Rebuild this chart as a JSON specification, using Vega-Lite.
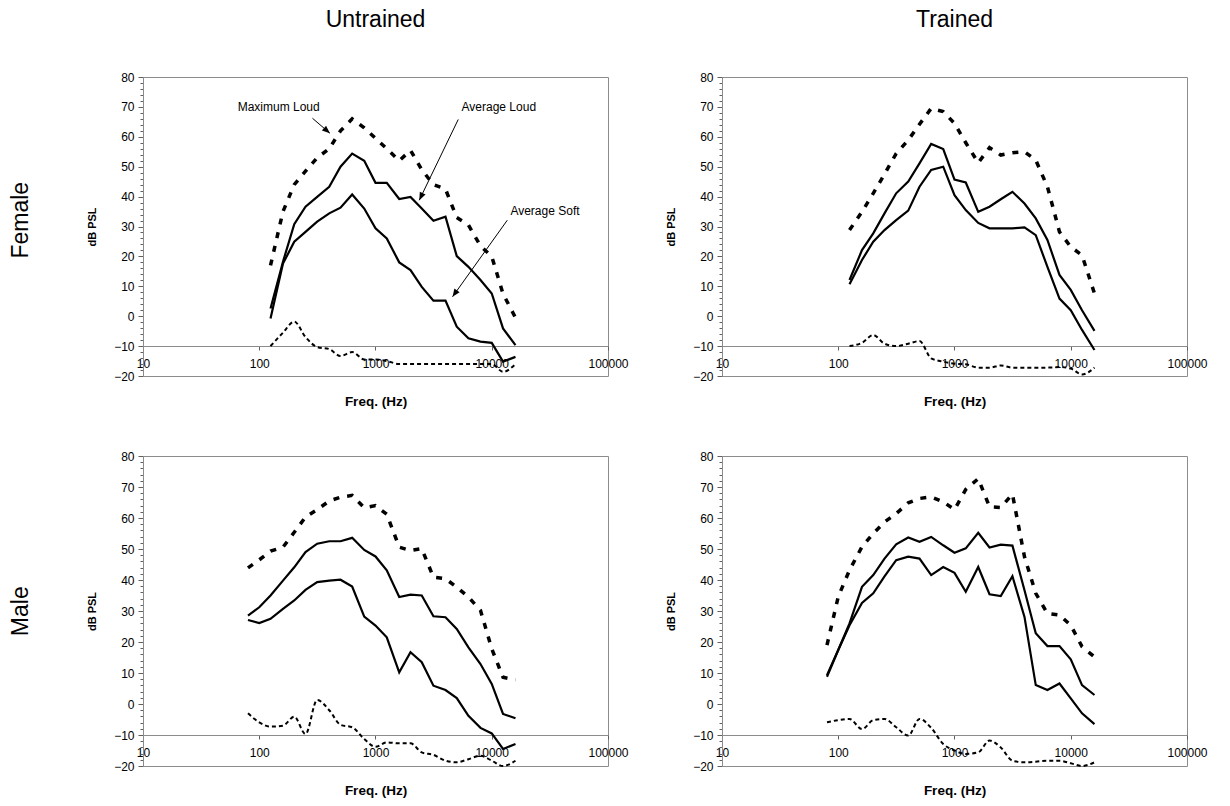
{
  "$schema": "https://vega.github.io/schema/vega-lite/v6.json",
  "background": "white",
  "padding": {"left": 10, "top": 8, "right": 5, "bottom": 5},
  "config": {
    "font": "Liberation Sans",
    "view": {"stroke": "#8c8c8c", "strokeWidth": 1},
    "axis": {"labelColor": "#000", "titleColor": "#000", "labelFontSize": 12, "grid": false, "domainColor": "#8c8c8c", "tickColor": "#606060"},
    "title": {"fontSize": 23, "fontWeight": "normal", "color": "#000"}
  },
  "datasets": {
    "spl": [
      {"p":"FU","f":125,"max":17,"loud":2.6,"soft":-0.8,"noise":-10},
      {"p":"FU","f":160,"max":35,"loud":18.2,"soft":17.6,"noise":-5.5},
      {"p":"FU","f":200,"max":44,"loud":30.8,"soft":24.9,"noise":-1.8},
      {"p":"FU","f":250,"max":48.5,"loud":36.6,"soft":28.2,"noise":-7},
      {"p":"FU","f":315,"max":53,"loud":39.9,"soft":31.6,"noise":-10.3},
      {"p":"FU","f":400,"max":56,"loud":43.3,"soft":34.4,"noise":-11},
      {"p":"FU","f":500,"max":62,"loud":50,"soft":36.3,"noise":-13.3},
      {"p":"FU","f":630,"max":66,"loud":54.4,"soft":40.7,"noise":-12},
      {"p":"FU","f":800,"max":63,"loud":52,"soft":36,"noise":-14.5},
      {"p":"FU","f":1000,"max":59.5,"loud":44.6,"soft":29.4,"noise":-14.5},
      {"p":"FU","f":1250,"max":56,"loud":44.6,"soft":26,"noise":-15},
      {"p":"FU","f":1600,"max":52,"loud":39.2,"soft":18,"noise":-16},
      {"p":"FU","f":2000,"max":55.5,"loud":39.9,"soft":15.4,"noise":-16},
      {"p":"FU","f":2500,"max":49,"loud":36,"soft":9.8,"noise":-16},
      {"p":"FU","f":3150,"max":44,"loud":31.9,"soft":5.2,"noise":-16},
      {"p":"FU","f":4000,"max":42.5,"loud":33.3,"soft":5.2,"noise":-16},
      {"p":"FU","f":5000,"max":33,"loud":20.1,"soft":-3.5,"noise":-16},
      {"p":"FU","f":6300,"max":30.5,"loud":16.5,"soft":-7.4,"noise":-16},
      {"p":"FU","f":8000,"max":23.5,"loud":12.1,"soft":-8.5,"noise":-16},
      {"p":"FU","f":10000,"max":20,"loud":7.6,"soft":-8.9,"noise":-16},
      {"p":"FU","f":12500,"max":7.5,"loud":-4.1,"soft":-15.2,"noise":-18.6},
      {"p":"FU","f":16000,"max":-0.5,"loud":-9.7,"soft":-13.6,"noise":-16},

      {"p":"FT","f":125,"max":28.8,"loud":12.1,"soft":10.7,"noise":-10},
      {"p":"FT","f":160,"max":34.9,"loud":22.1,"soft":18.8,"noise":-8.9},
      {"p":"FT","f":200,"max":41.1,"loud":27.7,"soft":24.9,"noise":-6.3},
      {"p":"FT","f":250,"max":47.5,"loud":34.4,"soft":28.8,"noise":-9.2},
      {"p":"FT","f":315,"max":54.4,"loud":41.1,"soft":32.1,"noise":-10},
      {"p":"FT","f":400,"max":58.9,"loud":45,"soft":35.3,"noise":-9.2},
      {"p":"FT","f":500,"max":64.2,"loud":51.1,"soft":43.3,"noise":-8.3},
      {"p":"FT","f":630,"max":69.5,"loud":57.6,"soft":48.9,"noise":-14.1},
      {"p":"FT","f":800,"max":68.4,"loud":55.9,"soft":50,"noise":-15.2},
      {"p":"FT","f":1000,"max":64.5,"loud":45.7,"soft":40.5,"noise":-15.9},
      {"p":"FT","f":1250,"max":58,"loud":44.7,"soft":35.5,"noise":-16.1},
      {"p":"FT","f":1600,"max":51.3,"loud":34.9,"soft":31.2,"noise":-17.2},
      {"p":"FT","f":2000,"max":56.4,"loud":36.6,"soft":29.4,"noise":-17.2},
      {"p":"FT","f":2500,"max":53.9,"loud":39.1,"soft":29.4,"noise":-16.5},
      {"p":"FT","f":3150,"max":54.7,"loud":41.6,"soft":29.4,"noise":-17.2},
      {"p":"FT","f":4000,"max":55,"loud":37.7,"soft":29.7,"noise":-17.2},
      {"p":"FT","f":5000,"max":52.2,"loud":32.7,"soft":27.1,"noise":-17.2},
      {"p":"FT","f":6300,"max":43.3,"loud":25.5,"soft":16.5,"noise":-17.2},
      {"p":"FT","f":8000,"max":28.2,"loud":13.8,"soft":5.9,"noise":-17},
      {"p":"FT","f":10000,"max":23.2,"loud":8.8,"soft":2,"noise":-17.5},
      {"p":"FT","f":12500,"max":20.4,"loud":2,"soft":-4.6,"noise":-19.5},
      {"p":"FT","f":16000,"max":7.6,"loud":-4.9,"soft":-11.3,"noise":-17.2},

      {"p":"MU","f":80,"max":43.9,"loud":28.5,"soft":27.1,"noise":-3},
      {"p":"MU","f":100,"max":46.5,"loud":31.2,"soft":26.1,"noise":-5.9},
      {"p":"MU","f":125,"max":49.3,"loud":35,"soft":27.5,"noise":-7.3},
      {"p":"MU","f":160,"max":50.6,"loud":39.8,"soft":30.7,"noise":-7},
      {"p":"MU","f":200,"max":55.4,"loud":44.1,"soft":33.4,"noise":-4.1},
      {"p":"MU","f":250,"max":60.3,"loud":49,"soft":36.8,"noise":-9.7},
      {"p":"MU","f":315,"max":62.7,"loud":51.7,"soft":39.3,"noise":1.3},
      {"p":"MU","f":400,"max":65.5,"loud":52.5,"soft":39.8,"noise":-2},
      {"p":"MU","f":500,"max":66.7,"loud":52.5,"soft":40.1,"noise":-6.7},
      {"p":"MU","f":630,"max":67.3,"loud":53.6,"soft":37.9,"noise":-7.5},
      {"p":"MU","f":800,"max":63.3,"loud":49.7,"soft":28.2,"noise":-11.3},
      {"p":"MU","f":1000,"max":64,"loud":47.6,"soft":25.3,"noise":-13.8},
      {"p":"MU","f":1250,"max":61.2,"loud":43.1,"soft":21.5,"noise":-12.4},
      {"p":"MU","f":1600,"max":50.6,"loud":34.5,"soft":10.2,"noise":-12.7},
      {"p":"MU","f":2000,"max":49.5,"loud":35.3,"soft":16.7,"noise":-12.7},
      {"p":"MU","f":2500,"max":50.1,"loud":35,"soft":13.5,"noise":-15.6},
      {"p":"MU","f":3150,"max":40.9,"loud":28.3,"soft":5.9,"noise":-16.4},
      {"p":"MU","f":4000,"max":40.4,"loud":28,"soft":4.5,"noise":-18.3},
      {"p":"MU","f":5000,"max":37.7,"loud":24.2,"soft":1.9,"noise":-18.8},
      {"p":"MU","f":6300,"max":34.5,"loud":18.3,"soft":-3.8,"noise":-17.8},
      {"p":"MU","f":8000,"max":30.2,"loud":12.9,"soft":-7.7,"noise":-16.7},
      {"p":"MU","f":10000,"max":17.8,"loud":6.5,"soft":-9.5,"noise":-18.3},
      {"p":"MU","f":12500,"max":8.6,"loud":-3.2,"soft":-14.5,"noise":-20},
      {"p":"MU","f":16000,"max":7.8,"loud":-4.6,"soft":-12.9,"noise":-18.3},

      {"p":"MT","f":80,"max":19,"loud":9.3,"soft":8.8,"noise":-5.9},
      {"p":"MT","f":100,"max":34.6,"loud":17.4,"soft":17.4,"noise":-5.2},
      {"p":"MT","f":125,"max":43.2,"loud":26,"soft":25.4,"noise":-4.8},
      {"p":"MT","f":160,"max":50.7,"loud":37.8,"soft":32.6,"noise":-8.1},
      {"p":"MT","f":200,"max":55,"loud":41.6,"soft":35.7,"noise":-5.2},
      {"p":"MT","f":250,"max":58.7,"loud":46.9,"soft":41.2,"noise":-4.8},
      {"p":"MT","f":315,"max":61.4,"loud":51.5,"soft":46.4,"noise":-7.5},
      {"p":"MT","f":400,"max":64.9,"loud":53.7,"soft":47.5,"noise":-10.2},
      {"p":"MT","f":500,"max":66.3,"loud":52.3,"soft":46.9,"noise":-4.8},
      {"p":"MT","f":630,"max":66.8,"loud":53.9,"soft":41.6,"noise":-7.7},
      {"p":"MT","f":800,"max":65.2,"loud":51.2,"soft":44.2,"noise":-12.9},
      {"p":"MT","f":1000,"max":62.7,"loud":48.8,"soft":42.3,"noise":-15},
      {"p":"MT","f":1250,"max":69.2,"loud":50.2,"soft":36.2,"noise":-16.1},
      {"p":"MT","f":1600,"max":72.7,"loud":55.2,"soft":44.2,"noise":-15.6},
      {"p":"MT","f":2000,"max":63.6,"loud":50.5,"soft":35.4,"noise":-11.8},
      {"p":"MT","f":2500,"max":63.4,"loud":51.4,"soft":34.8,"noise":-14},
      {"p":"MT","f":3150,"max":67.7,"loud":51.1,"soft":41.2,"noise":-18.3},
      {"p":"MT","f":4000,"max":47.5,"loud":36.7,"soft":28.1,"noise":-18.8},
      {"p":"MT","f":5000,"max":35.7,"loud":22.8,"soft":6.1,"noise":-18.6},
      {"p":"MT","f":6300,"max":29.2,"loud":18.7,"soft":4.5,"noise":-18.3},
      {"p":"MT","f":8000,"max":28.7,"loud":18.7,"soft":6.6,"noise":-18.3},
      {"p":"MT","f":10000,"max":25.4,"loud":14.4,"soft":1.8,"noise":-19.1},
      {"p":"MT","f":12500,"max":18.5,"loud":6.1,"soft":-3,"noise":-20},
      {"p":"MT","f":16000,"max":15.2,"loud":2.9,"soft":-6.5,"noise":-18.8}
    ],
    "notes": [
      {"label": "Maximum Loud", "f": 147, "db": 70},
      {"label": "Average Loud", "f": 11500, "db": 70},
      {"label": "Average Soft", "f": 28700, "db": 35.2}
    ],
    "arrows": [
      {"a": "max", "f": 405, "db": 61.2, "f0": 287, "db0": 66.2},
      {"a": "loud", "f": 2380, "db": 38.8, "f0": 5150, "db0": 65.8},
      {"a": "soft", "f": 4600, "db": 6.5, "f0": 13600, "db0": 32.1}
    ]
  },
  "spacing": 41,
  "vconcat": [
    {
      "title": {"text": "Female", "orient": "left", "anchor": "middle", "offset": 35, "baseline": "alphabetic", "dx": -12},
      "bounds": "flush",
      "spacing": 114,
      "hconcat": [
        {
          "width": 465, "height": 299,
          "title": {"text": "Untrained", "offset": 21, "baseline": "alphabetic", "frame": "group"},
          "encoding": {
            "x": {"field": "f", "type": "quantitative", "scale": {"type": "log", "domain": [10, 100000]},
              "axis": {"title": "Freq. (Hz)", "offset": -30, "values": [10, 100, 1000, 10000, 100000], "format": "d", "labelFlush": false, "labelOverlap": false, "labelBound": false, "tickSize": 4, "labelPadding": 8, "titleFontSize": 13.5, "titleFontWeight": "bold", "titlePadding": 25}},
            "y": {"field": "db", "type": "quantitative", "scale": {"domain": [-20, 80], "nice": false},
              "axis": {"title": "dB PSL", "values": [-20,-18,-16,-14,-12,-10,-8,-6,-4,-2,0,2,4,6,8,10,12,14,16,18,20,22,24,26,28,30,32,34,36,38,40,42,44,46,48,50,52,54,56,58,60,62,64,66,68,70,72,74,76,78,80], "labelExpr": "datum.value % 10 === 0 ? datum.label : ''", "tickSize": {"condition": {"test": "datum.value % 10 === 0", "value": 5}, "value": 3}, "labelOverlap": false, "labelFlush": false, "labelPadding": 4, "titleFontSize": 11, "titleFontWeight": "bold", "titlePadding": 16}}
          },
          "layer": [
            {"data": {"name": "spl"}, "transform": [{"filter": "datum.p === 'FU'"}, {"fold": ["loud", "soft"], "as": ["s", "db"]}],
              "mark": {"type": "line", "color": "black", "strokeWidth": 2.2}, "encoding": {"detail": {"field": "s"}}},
            {"data": {"name": "spl"}, "transform": [{"filter": "datum.p === 'FU'"}, {"fold": ["max"], "as": ["s", "db"]}],
              "mark": {"type": "line", "color": "black", "strokeWidth": 3.5, "strokeDash": [6, 8]}},
            {"data": {"name": "spl"}, "transform": [{"filter": "datum.p === 'FU'"}, {"fold": ["noise"], "as": ["s", "db"]}],
              "mark": {"type": "line", "color": "black", "strokeWidth": 2, "strokeDash": [4, 3], "interpolate": "monotone"}},
            {"data": {"name": "notes"}, "mark": {"type": "text", "fontSize": 12, "color": "black", "align": "center", "baseline": "middle"},
              "encoding": {"text": {"field": "label"}}},
            {"data": {"name": "arrows"}, "mark": {"type": "rule", "color": "black", "strokeWidth": 1},
              "encoding": {"x2": {"field": "f0"}, "y2": {"field": "db0"}}},
            {"data": {"name": "arrows"}, "transform": [{"filter": "datum.a === 'max'"}],
              "mark": {"type": "point", "shape": "M0,0L-0.9,2.2L0.9,2.2Z", "filled": true, "color": "black", "size": 50, "angle": 131, "opacity": 1}},
            {"data": {"name": "arrows"}, "transform": [{"filter": "datum.a === 'loud'"}],
              "mark": {"type": "point", "shape": "M0,0L-0.9,2.2L0.9,2.2Z", "filled": true, "color": "black", "size": 50, "angle": 206, "opacity": 1}},
            {"data": {"name": "arrows"}, "transform": [{"filter": "datum.a === 'soft'"}],
              "mark": {"type": "point", "shape": "M0,0L-0.9,2.2L0.9,2.2Z", "filled": true, "color": "black", "size": 50, "angle": 215, "opacity": 1}}
          ]
        },
        {
          "width": 465, "height": 299,
          "title": {"text": "Trained", "offset": 21, "baseline": "alphabetic", "frame": "group"},
          "data": {"name": "spl"},
          "transform": [{"filter": "datum.p === 'FT'"}],
          "encoding": {
            "x": {"field": "f", "type": "quantitative", "scale": {"type": "log", "domain": [10, 100000]},
              "axis": {"title": "Freq. (Hz)", "offset": -30, "values": [10, 100, 1000, 10000, 100000], "format": "d", "labelFlush": false, "labelOverlap": false, "labelBound": false, "tickSize": 4, "labelPadding": 8, "titleFontSize": 13.5, "titleFontWeight": "bold", "titlePadding": 25}},
            "y": {"field": "db", "type": "quantitative", "scale": {"domain": [-20, 80], "nice": false},
              "axis": {"title": "dB PSL", "values": [-20,-18,-16,-14,-12,-10,-8,-6,-4,-2,0,2,4,6,8,10,12,14,16,18,20,22,24,26,28,30,32,34,36,38,40,42,44,46,48,50,52,54,56,58,60,62,64,66,68,70,72,74,76,78,80], "labelExpr": "datum.value % 10 === 0 ? datum.label : ''", "tickSize": {"condition": {"test": "datum.value % 10 === 0", "value": 5}, "value": 3}, "labelOverlap": false, "labelFlush": false, "labelPadding": 4, "titleFontSize": 11, "titleFontWeight": "bold", "titlePadding": 16}}
          },
          "layer": [
            {"transform": [{"fold": ["loud", "soft"], "as": ["s", "db"]}],
              "mark": {"type": "line", "color": "black", "strokeWidth": 2.2}, "encoding": {"detail": {"field": "s"}}},
            {"transform": [{"fold": ["max"], "as": ["s", "db"]}],
              "mark": {"type": "line", "color": "black", "strokeWidth": 3.5, "strokeDash": [6, 8]}},
            {"transform": [{"fold": ["noise"], "as": ["s", "db"]}],
              "mark": {"type": "line", "color": "black", "strokeWidth": 2, "strokeDash": [4, 3], "interpolate": "monotone"}}
          ]
        }
      ]
    },
    {
      "title": {"text": "Male", "orient": "left", "anchor": "middle", "offset": 35, "baseline": "alphabetic", "dx": 12},
      "bounds": "flush",
      "spacing": 114,
      "hconcat": [
        {
          "width": 465, "height": 310,
          "data": {"name": "spl"},
          "transform": [{"filter": "datum.p === 'MU'"}],
          "encoding": {
            "x": {"field": "f", "type": "quantitative", "scale": {"type": "log", "domain": [10, 100000]},
              "axis": {"title": "Freq. (Hz)", "offset": -31, "values": [10, 100, 1000, 10000, 100000], "format": "d", "labelFlush": false, "labelOverlap": false, "labelBound": false, "tickSize": 4, "labelPadding": 8, "titleFontSize": 13.5, "titleFontWeight": "bold", "titlePadding": 25}},
            "y": {"field": "db", "type": "quantitative", "scale": {"domain": [-20, 80], "nice": false},
              "axis": {"title": "dB PSL", "values": [-20,-18,-16,-14,-12,-10,-8,-6,-4,-2,0,2,4,6,8,10,12,14,16,18,20,22,24,26,28,30,32,34,36,38,40,42,44,46,48,50,52,54,56,58,60,62,64,66,68,70,72,74,76,78,80], "labelExpr": "datum.value % 10 === 0 ? datum.label : ''", "tickSize": {"condition": {"test": "datum.value % 10 === 0", "value": 5}, "value": 3}, "labelOverlap": false, "labelFlush": false, "labelPadding": 4, "titleFontSize": 11, "titleFontWeight": "bold", "titlePadding": 16}}
          },
          "layer": [
            {"transform": [{"fold": ["loud", "soft"], "as": ["s", "db"]}],
              "mark": {"type": "line", "color": "black", "strokeWidth": 2.2}, "encoding": {"detail": {"field": "s"}}},
            {"transform": [{"fold": ["max"], "as": ["s", "db"]}],
              "mark": {"type": "line", "color": "black", "strokeWidth": 3.5, "strokeDash": [6, 8]}},
            {"transform": [{"fold": ["noise"], "as": ["s", "db"]}],
              "mark": {"type": "line", "color": "black", "strokeWidth": 2, "strokeDash": [4, 3], "interpolate": "monotone"}}
          ]
        },
        {
          "width": 465, "height": 310,
          "data": {"name": "spl"},
          "transform": [{"filter": "datum.p === 'MT'"}],
          "encoding": {
            "x": {"field": "f", "type": "quantitative", "scale": {"type": "log", "domain": [10, 100000]},
              "axis": {"title": "Freq. (Hz)", "offset": -31, "values": [10, 100, 1000, 10000, 100000], "format": "d", "labelFlush": false, "labelOverlap": false, "labelBound": false, "tickSize": 4, "labelPadding": 8, "titleFontSize": 13.5, "titleFontWeight": "bold", "titlePadding": 25}},
            "y": {"field": "db", "type": "quantitative", "scale": {"domain": [-20, 80], "nice": false},
              "axis": {"title": "dB PSL", "values": [-20,-18,-16,-14,-12,-10,-8,-6,-4,-2,0,2,4,6,8,10,12,14,16,18,20,22,24,26,28,30,32,34,36,38,40,42,44,46,48,50,52,54,56,58,60,62,64,66,68,70,72,74,76,78,80], "labelExpr": "datum.value % 10 === 0 ? datum.label : ''", "tickSize": {"condition": {"test": "datum.value % 10 === 0", "value": 5}, "value": 3}, "labelOverlap": false, "labelFlush": false, "labelPadding": 4, "titleFontSize": 11, "titleFontWeight": "bold", "titlePadding": 16}}
          },
          "layer": [
            {"transform": [{"fold": ["loud", "soft"], "as": ["s", "db"]}],
              "mark": {"type": "line", "color": "black", "strokeWidth": 2.2}, "encoding": {"detail": {"field": "s"}}},
            {"transform": [{"fold": ["max"], "as": ["s", "db"]}],
              "mark": {"type": "line", "color": "black", "strokeWidth": 3.5, "strokeDash": [6, 8]}},
            {"transform": [{"fold": ["noise"], "as": ["s", "db"]}],
              "mark": {"type": "line", "color": "black", "strokeWidth": 2, "strokeDash": [4, 3], "interpolate": "monotone"}}
          ]
        }
      ]
    }
  ]
}
